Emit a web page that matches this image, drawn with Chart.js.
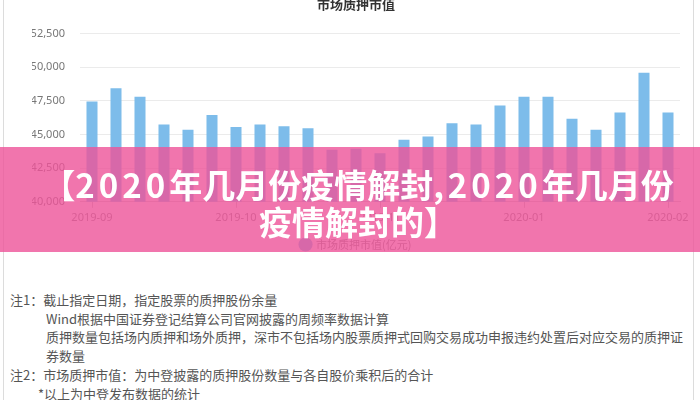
<!DOCTYPE HTML>
<html>
<head>
  <meta charset='utf-8'>
  <title>市场质押市值</title>
  <script src='https://cdn.jsdelivr.net/npm/chart.js'></script>
  <style>
    body {
      margin: 0;
      width: 700px;
      height: 400px;
      overflow: hidden;
      background: #fff;
      position: relative;
      font-family: 'Noto Sans CJK SC', 'Noto Sans', sans-serif;
    }
    .frame {
      position: absolute;
      left: 3px;
      top: 0;
      width: 689px;
      height: 400px;
      border-left: 1px solid #dcdcdc;
      border-right: 1px solid #dcdcdc;
    }
    .chart-box {
      position: absolute;
      left: 0;
      top: -10px;
      width: 700px;
      height: 270px;
    }
    .banner {
      position: absolute;
      left: 0;
      top: 147px;
      width: 700px;
      height: 105px;
      background: rgba(238, 82, 152, 0.8);
      color: #fff;
      font-weight: bold;
      font-size: 33px;
      line-height: 37px;
      text-align: center;
      padding-top: 19px;
      box-sizing: border-box;
      padding-left: 16px;
    }
    .banner .num { letter-spacing: 4px; }
    .notes {
      position: absolute;
      left: 10px;
      top: 291px;
      font-size: 13px;
      color: #555;
    }
    .notes div {
      height: 18.5px;
      line-height: 18.5px;
      white-space: nowrap;
    }
    .notes .indent { padding-left: 36px; }
    .notes .star { padding-left: 28px; }
  </style>
</head>
<body>
  <div class='frame'></div>
  <div class='chart-box'><canvas id='pledgeChart'></canvas></div>
  <div class='banner'>【<span class='num'>2020</span>年几月份疫情解封<span class='num'>,2020</span>年几月份<br>疫情解封的】</div>
  <div class='notes'>
    <div>注1：截止指定日期，指定股票的质押股份余量</div>
    <div class='indent'>Wind根据中国证券登记结算公司官网披露的周频率数据计算</div>
    <div class='indent'>质押数量包括场内质押和场外质押，深市不包括场内股票质押式回购交易成功申报违约处置后对应交易的质押证</div>
    <div class='indent'>券数量</div>
    <div style='margin-top:1px'>注2：市场质押市值：为中登披露的质押股份数量与各自股价乘积后的合计</div>
    <div class='star'>*以上为中登发布数据的统计</div>
  </div>
  <script>
    // 每周五的数据（周度）
    var weeks = [
      '2019-09-06', '2019-09-13', '2019-09-20', '2019-09-27',
      '2019-10-04', '2019-10-11', '2019-10-18', '2019-10-25',
      '2019-11-01', '2019-11-08', '2019-11-15', '2019-11-22', '2019-11-29',
      '2019-12-06', '2019-12-13', '2019-12-20', '2019-12-27',
      '2020-01-03', '2020-01-10', '2020-01-17', '2020-01-24', '2020-01-31',
      '2020-02-07', '2020-02-14', '2020-02-21'
    ];
    // 市场质押市值(亿元)
    var pledgeValue = [
      47450, 48430, 47800, 45750, 45350, 46450, 45550, 45750, 45620, 45470,
      43870, 43950, 43600, 44620, 44850, 45830, 45750, 47150, 47800, 47800,
      46180, 45350, 46630, 49590, 46630
    ];
    var yMin = 40000;
    var yMax = 52500;
    var yStep = 2500;
    var labelEvery = 6;

    var ctx = document.getElementById('pledgeChart').getContext('2d');
    var pledgeChart = new Chart(ctx, {
      type: 'bar',
      data: {
        labels: weeks,
        datasets: [{
          label: '市场质押市值(亿元)',
          data: pledgeValue,
          backgroundColor: '#7dbcea',
          borderWidth: 0,
          categoryPercentage: 0.9,
          barPercentage: 0.51
        }]
      },
      options: {
        responsive: true,
        maintainAspectRatio: false,
        animation: false,
        layout: {
          padding: { left: 32, right: 20, top: 0, bottom: 0 }
        },
        plugins: {
          title: {
            display: true,
            text: '市场质押市值',
            color: '#333',
            font: { size: 13, weight: 'bold', family: "'Noto Sans CJK SC', sans-serif" },
            padding: { top: 6, bottom: 22 }
          },
          legend: {
            position: 'bottom',
            labels: {
              usePointStyle: true,
              pointStyle: 'circle',
              boxWidth: 10,
              boxHeight: 10,
              color: '#888',
              padding: 12,
              font: { size: 11, family: "'Noto Sans CJK SC', sans-serif" }
            }
          },
          tooltip: { enabled: false }
        },
        scales: {
          x: {
            grid: {
              offset: false,
              drawOnChartArea: false,
              tickLength: 6,
              color: function(c) {
                return c.index % labelEvery === 0 ? '#c8c8c8' : 'rgba(0,0,0,0)';
              }
            },
            border: { display: true, color: '#d0d0d0' },
            ticks: {
              autoSkip: false,
              maxRotation: 0,
              color: '#888',
              font: { size: 11, family: "'Noto Sans', sans-serif" },
              padding: 3,
              callback: function(v, i) {
                return i % labelEvery === 0 ? weeks[i].slice(0, 7) : '';
              }
            }
          },
          y: {
            min: yMin,
            max: yMax,
            grid: { color: '#ebebeb', drawTicks: false },
            border: { display: false },
            afterFit: function(scale) { scale.width = 48; },
            ticks: {
              stepSize: yStep,
              color: '#777',
              padding: 15,
              font: { size: 11, family: "'Noto Sans', sans-serif" },
              callback: function(v) { return v.toLocaleString('en-US'); }
            }
          }
        }
      }
    });
  </script>
</body>
</html>
